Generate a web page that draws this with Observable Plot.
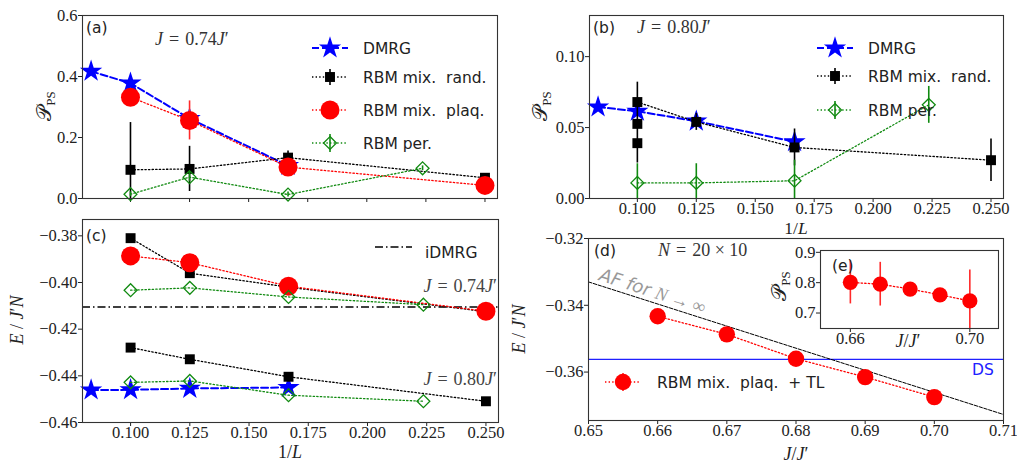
<!DOCTYPE html>
<html>
<head>
<meta charset="utf-8">
<script src="https://cdn.jsdelivr.net/npm/d3@7"></script>
<script src="https://cdn.jsdelivr.net/npm/@observablehq/plot@0.6"></script>
<style>
  body { margin: 0; background: #fff; }
  #fig { position: relative; width: 1017px; height: 466px; overflow: hidden; background: #fff; }
  #fig svg { position: absolute; overflow: visible; }
  #fig text { white-space: pre; }
</style>
</head>
<body>
<div id="fig"></div>
<script>
// ---------------- data ----------------
// inverse linear system size 1/L
const dmrgInvL = [1 / 12, 1 / 10, 1 / 8, 1 / 6];
const rbmInvL = [1 / 10, 1 / 8, 1 / 6, 1 / 4];
const perInvL = [1 / 10, 1 / 8, 1 / 6, 0.2236];
const invLTicks = [0.100, 0.125, 0.150, 0.175, 0.200, 0.225, 0.250];

// (a) plaquette order parameter, J = 0.74 J'
const dmrgP74 = [0.417, 0.378, 0.262, 0.108];
const randP74 = [0.094, 0.097, 0.134, 0.068];
const randP74Err = [0.155, 0.074, 0.022, 0.008];
const plaqP74 = [0.332, 0.256, 0.103, 0.043];
const plaqP74Err = [0.008, 0.064, 0.010, 0.006];
const perP74 = [0.014, 0.070, 0.013, 0.099];
const perP74Err = [0.008, 0.016, 0.008, 0.008];

// (b) plaquette order parameter, J = 0.80 J'
const dmrgP80 = [0.0645, 0.0615, 0.0545, 0.0400];
const randP80 = [0.068, 0.054, 0.036, 0.027];
const randP80Err = [0.014, 0.006, 0.013, 0.015];
const randP80ExtraInvL = [1 / 10, 1 / 10];
const randP80Extra = [0.0526, 0.039];
const randP80ExtraErr = [0.003, 0.014];
const perP80 = [0.011, 0.011, 0.0125, 0.066];
const perP80Err = [0.0135, 0.0135, 0.0145, 0.013];

// (c) energy per site
const randE74 = [-0.3810, -0.3960, -0.4020, -0.4125];
const plaqE74 = [-0.3886, -0.3915, -0.4016, -0.4123];
const perE74 = [-0.4033, -0.4023, -0.4062, -0.4095];
const randE80 = [-0.4279, -0.4329, -0.4404, -0.4509];
const perE80 = [-0.4428, -0.4422, -0.4483, -0.4509];
const dmrgE80 = [-0.4461, -0.4460, -0.4454, -0.4450];
const iDMRG74 = -0.4105;

// (d) energy vs coupling ratio on the 20 x 10 lattice, (e) order parameter
const jRatio = [0.66, 0.67, 0.68, 0.69, 0.70];
const tlE = [-0.3433, -0.3487, -0.3560, -0.3615, -0.3675];
const tlEErr = [0.0008, 0.0008, 0.0008, 0.0008, 0.0008];
const dsEnergy = -0.3562;
const afJ = [0.65, 0.71];
const afE = [-0.3330, -0.3727];
const tlP = [0.801, 0.795, 0.779, 0.760, 0.740];
const tlPErr = [0.071, 0.072, 0.010, 0.010, 0.102];

// ---------------- styles ----------------
const SERIF = "'Liberation Serif', 'DejaVu Serif', serif";
const SANS = "'DejaVu Sans', sans-serif";
const DOT = "1.4,2.2";
const TICK_FONT = 16.5;
const S_DMRG = {color: "#0000ff", lw: 2, dash: "7,3", symbol: "star", sym: d3.symbolStar, r: 7, fill: "#0000ff"};
const S_RAND = {color: "#000000", lw: 1.3, dash: DOT, symbol: "square", sym: d3.symbolSquare, r: 5.6, fill: "#000000", err: "#000000", legendErr: 8};
const S_PLAQ = {color: "#ff0000", lw: 1.3, dash: DOT, symbol: "circle", sym: d3.symbolCircle, r: 9.5, fill: "#ff0000", err: "#ff2a2a", legendErr: 9};
const S_PER = {color: "#108a10", lw: 1.3, dash: DOT, symbol: "diamond2", sym: d3.symbolDiamond2, r: 5.8, fill: "none", mstroke: "#108a10", msw: 1.3, err: "#108a10", legendErr: 9};

const rows = (xs, ys, es) => xs.map((x, i) => ({x, y: ys[i], e: es ? es[i] : 0}));

function seriesMarks(data, s, opts = {}) {
  const marks = [];
  if (opts.line !== false) {
    marks.push(Plot.line(data, {x: "x", y: "y", stroke: s.color, strokeWidth: s.lw, strokeDasharray: s.dash, clip: true}));
  }
  if (opts.err) {
    marks.push(Plot.ruleX(data, {x: "x", y1: d => d.y - d.e, y2: d => d.y + d.e, stroke: s.err, strokeWidth: 1.6, clip: true}));
  }
  marks.push(Plot.dot(data, {
    x: "x", y: "y", symbol: s.symbol, r: opts.r || s.r,
    fill: s.fill, stroke: s.mstroke || "none", strokeWidth: s.msw || 0
  }));
  return marks;
}

const fig = document.getElementById("fig");

function panel({left, top, width, height, mt, mr, mb, ml, x, y, marks}) {
  const svg = Plot.plot({
    width, height,
    marginTop: mt, marginRight: mr, marginBottom: mb, marginLeft: ml,
    x, y,
    style: {background: "transparent", fontFamily: SERIF, fontSize: TICK_FONT + "px", color: "#222", overflow: "visible"},
    marks
  });
  svg.style.left = left + "px";
  svg.style.top = top + "px";
  // tick labels in the serif face used for all numbers
  d3.select(svg).selectAll("text")
    .style("font-family", SERIF).style("font-size", TICK_FONT + "px").style("fill", "#222");
  fig.appendChild(svg);
  return svg;
}

const fmt = f => d3.format(f);
const noLabel = () => "";
const XDOM = [0.0797, 0.2553];
const frame = () => Plot.frame({stroke: "#333", strokeWidth: 1.1});
const axX = (ticks, format) => Plot.axisX({ticks, tickSize: 4, tickPadding: 0, tickFormat: format, label: null});
const axY = (ticks, format) => Plot.axisY({ticks, tickSize: 4, tickPadding: 1, tickFormat: format, label: null});

// (a)
panel({
  left: 0, top: 0, width: 508, height: 212, mt: 15, mr: 11, mb: 14, ml: 82,
  x: {domain: XDOM}, y: {domain: [0, 0.6]},
  marks: [
    axX(invLTicks, noLabel),
    axY([0, 0.2, 0.4, 0.6], fmt(".1f")),
    ...seriesMarks(rows(dmrgInvL, dmrgP74), S_DMRG),
    ...seriesMarks(rows(rbmInvL, randP74, randP74Err), S_RAND, {err: true}),
    ...seriesMarks(rows(rbmInvL, plaqP74, plaqP74Err), S_PLAQ, {err: true}),
    ...seriesMarks(rows(perInvL, perP74, perP74Err), S_PER, {err: true}),
    frame()
  ]
});

// (b)
panel({
  left: 510, top: 0, width: 507, height: 235, mt: 15, mr: 14, mb: 37, ml: 79,
  x: {domain: XDOM}, y: {domain: [0, 0.129]},
  marks: [
    axX(invLTicks, fmt(".3f")),
    axY([0, 0.05, 0.10], fmt(".2f")),
    ...seriesMarks(rows(dmrgInvL, dmrgP80), S_DMRG),
    ...seriesMarks(rows(rbmInvL, randP80, randP80Err), S_RAND, {err: true}),
    ...seriesMarks(rows(randP80ExtraInvL, randP80Extra, randP80ExtraErr), S_RAND, {err: true, line: false}),
    ...seriesMarks(rows(perInvL, perP80, perP80Err), S_PER, {err: true}),
    frame()
  ]
});

// (c)
panel({
  left: 0, top: 212, width: 508, height: 254, mt: 7, mr: 10, mb: 44, ml: 82,
  x: {domain: XDOM}, y: {domain: [-0.46, -0.373]},
  marks: [
    axX(invLTicks, fmt(".3f")),
    axY([-0.46, -0.44, -0.42, -0.40, -0.38], fmt(".2f")),
    Plot.ruleY([iDMRG74], {stroke: "#000", strokeWidth: 1.3, strokeDasharray: "8,3,1.5,3"}),
    ...seriesMarks(rows(dmrgInvL, dmrgE80), S_DMRG),
    ...seriesMarks(rows(rbmInvL, randE74), S_RAND),
    ...seriesMarks(rows(rbmInvL, randE80), S_RAND),
    ...seriesMarks(rows(rbmInvL, plaqE74), S_PLAQ),
    ...seriesMarks(rows(perInvL, perE74), S_PER),
    ...seriesMarks(rows(perInvL, perE80), S_PER),
    frame()
  ]
});

// (d)
panel({
  left: 510, top: 235, width: 507, height: 231, mt: 3, mr: 14, mb: 46, ml: 78,
  x: {domain: [0.65, 0.71]}, y: {domain: [-0.3745, -0.32]},
  marks: [
    axX([0.65, 0.66, 0.67, 0.68, 0.69, 0.70, 0.71], fmt(".2f")),
    axY([-0.36, -0.34, -0.32], fmt(".2f")),
    Plot.ruleY([dsEnergy], {stroke: "#2020ff", strokeWidth: 1.1}),
    Plot.line(rows(afJ, afE), {x: "x", y: "y", stroke: "#000", strokeWidth: 1, strokeDasharray: "3.5,1.5", clip: true}),
    ...seriesMarks(rows(jRatio, tlE, tlEErr), S_PLAQ, {err: true, r: 8.2}),
    frame()
  ]
});

// (e) inset
panel({
  left: 765, top: 240, width: 250, height: 115, mt: 10, mr: 17, mb: 27, ml: 55,
  x: {domain: [0.65, 0.7096]}, y: {domain: [0.649, 0.906]},
  marks: [
    Plot.frame({fill: "#fff"}),
    axX([0.66, 0.70], fmt(".2f")),
    axY([0.7, 0.8, 0.9], fmt(".1f")),
    ...seriesMarks(rows(jRatio, tlP, tlPErr), S_PLAQ, {err: true, r: 7.6}),
    frame()
  ]
});

// ---------------- labels, legends and annotations ----------------
const ov = d3.select(fig).append("svg").attr("width", 1017).attr("height", 466)
  .style("left", "0px").style("top", "0px");

function label(x, y, parts, o = {}) {
  const size = o.size || 17;
  const t = ov.append("text").attr("x", x).attr("y", y)
    .attr("text-anchor", o.anchor || "start").attr("fill", o.fill || "#222")
    .attr("font-size", size).attr("font-family", o.font || SERIF);
  if (o.rotate) t.attr("transform", `rotate(${o.rotate},${x},${y})`);
  for (const [s, k] of parts) {
    const sp = t.append("tspan").text(s);
    if (k === "i") sp.attr("font-style", "italic");
    if (k === "s") sp.attr("font-family", SANS);
    if (k === "si") sp.attr("font-family", SANS).attr("font-style", "oblique");
    if (k === "cal") sp.attr("font-family", "'DejaVu Serif', 'DejaVu Sans', 'Noto Sans', serif").attr("font-size", size * 1.1);
    if (k === "sub") sp.attr("font-size", size * 0.68).attr("dy", 4);
  }
  return t;
}

function legendRow(cx, cy, s, text, tx, r) {
  const g = ov.append("g");
  g.append("line").attr("x1", cx - 18).attr("x2", cx + 18).attr("y1", cy).attr("y2", cy)
    .attr("stroke", s.color).attr("stroke-width", s.lw).attr("stroke-dasharray", s.dash);
  if (s.legendErr) {
    g.append("line").attr("x1", cx).attr("x2", cx).attr("y1", cy - s.legendErr).attr("y2", cy + s.legendErr)
      .attr("stroke", s.err).attr("stroke-width", 1.6);
  }
  const rr = r || s.r;
  g.append("path").attr("d", d3.symbol(s.sym, Math.PI * rr * rr)())
    .attr("transform", `translate(${cx},${cy})`)
    .attr("fill", s.fill).attr("stroke", s.mstroke || "none").attr("stroke-width", s.msw || 0);
  label(tx, cy + 6, [[text, "s"]], {font: SANS, size: 15.5});
}

const PPS = [["𝒫", "cal"], ["PS", "sub"]];
const EJN = [["E", "i"], [" / ", ""], ["J", "i"], ["′", ""], ["N", "i"]];
const EQ = "\u2004=\u2004";
const coupling = v => [["J", "i"], [EQ + v, ""], ["J", "i"], ["′", ""]];

// (a)
label(86, 33, [["(a)", "s"]], {font: SANS, size: 15.5});
label(155, 45, coupling("0.74"), {size: 18, fill: "#333"});
label(51, 106, PPS, {rotate: -90, anchor: "middle", size: 19});
legendRow(330, 48, S_DMRG, "DMRG", 363);
legendRow(330, 77, S_RAND, "RBM mix.  rand.", 363);
legendRow(330, 110, S_PLAQ, "RBM mix.  plaq.", 363);
legendRow(330, 143, S_PER, "RBM per.", 363);

// (b)
label(593, 33, [["(b)", "s"]], {font: SANS, size: 15.5});
label(637, 33, coupling("0.80"), {size: 18, fill: "#333"});
label(547, 106, PPS, {rotate: -90, anchor: "middle", size: 19});
legendRow(835, 48, S_DMRG, "DMRG", 868);
legendRow(835, 76, S_RAND, "RBM mix.  rand.", 868);
legendRow(835, 110, S_PER, "RBM per.", 868);
label(796, 234, [["1/", ""], ["L", "i"]], {anchor: "middle", size: 17.5});

// (c)
label(86, 241, [["(c)", "s"]], {font: SANS, size: 15.5});
label(23, 320, EJN, {rotate: -90, anchor: "middle", size: 18});
label(290, 458, [["1/", ""], ["L", "i"]], {anchor: "middle", size: 18});
label(497, 292, coupling("0.74"), {anchor: "end", size: 18, fill: "#444"});
label(497, 385, coupling("0.80"), {anchor: "end", size: 18, fill: "#444"});
ov.append("line").attr("x1", 375).attr("x2", 412).attr("y1", 247).attr("y2", 247)
  .attr("stroke", "#000").attr("stroke-width", 1.3).attr("stroke-dasharray", "8,3,1.5,3");
label(425, 258, [["iDMRG", "s"]], {font: SANS, size: 15.5});

// (d)
label(594, 256, [["(d)", "s"]], {font: SANS, size: 15.5});
label(658, 256, [["N", "i"], [EQ + "20 × 10", ""]], {size: 18, fill: "#333"});
label(525, 329, EJN, {rotate: -90, anchor: "middle", size: 18});
label(796, 460, [["J", "i"], ["/", ""], ["J", "i"], ["′", ""]], {anchor: "middle", size: 18});
label(598, 280, [["AF for ", "si"], ["N", "i"], [" → ∞", ""]], {rotate: 17.7, size: 18, fill: "#999"});
label(972, 375, [["DS", "s"]], {font: SANS, size: 15.5, fill: "#2020ff"});
legendRow(623, 382, S_PLAQ, "RBM mix.  plaq.  + TL", 657, 8.2);

// (e)
label(832, 271, [["(e)", "s"]], {font: SANS, size: 15.5});
label(786, 286, PPS, {rotate: -90, anchor: "middle", size: 19});
label(908, 347, [["J", "i"], ["/", ""], ["J", "i"], ["′", ""]], {anchor: "middle", size: 18});
</script>
</body>
</html>
